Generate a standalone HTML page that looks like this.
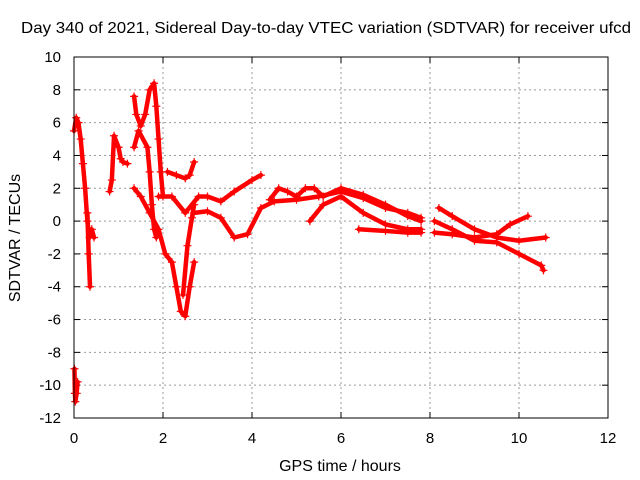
<!DOCTYPE html>
<html><head><meta charset="utf-8"><style>
body{margin:0;background:#fff}
svg{display:block;font-family:"Liberation Sans",sans-serif}
</style></head><body>
<svg id="chart" width="640" height="480">
<text x="326" y="33" text-anchor="middle" font-size="16" textLength="610" lengthAdjust="spacingAndGlyphs">Day 340 of 2021, Sidereal Day-to-day VTEC variation (SDTVAR) for receiver ufcd</text>
<text x="340" y="471" text-anchor="middle" font-size="16">GPS time / hours</text>
<text x="20" y="238" text-anchor="middle" font-size="16" transform="rotate(-90 20 238)">SDTVAR / TECUs</text>
<g id="grid"></g><g id="marks"></g>
<rect x="74" y="57" width="534" height="361" fill="none" stroke="#000"/>
</svg>
<script>
const xTicks=[0,2,4,6,8,10,12];
const yTicks=[10,8,6,4,2,0,-2,-4,-6,-8,-10,-12];
const trackA=[[0,5.5],[0.05,6.3],[0.1,6],[0.15,5],[0.2,3.5],[0.25,2],[0.3,0],[0.35,-1],[0.4,-0.5],[0.45,-1]];
const trackA2=[[0.3,0.5],[0.33,-2],[0.36,-4]];
const trackA3=[[0.01,-9],[0.02,-10.5],[0.03,-11],[0.06,-10.5],[0.08,-9.8]];
const trackB=[[0.8,1.8],[0.85,2.5],[0.9,5.2],[1.0,4.5],[1.05,3.8],[1.1,3.6],[1.2,3.5]];
const trackC=[[1.35,7.6],[1.4,6.5],[1.5,5.8],[1.6,6.5],[1.7,8],[1.8,8.4],[1.85,7],[1.9,5],[1.95,3],[2.0,1.5]];
const trackC2=[[1.35,4.5],[1.45,5.5],[1.65,4.5],[1.7,3],[1.75,1],[1.8,-0.5],[1.85,-1]];
const trackD=[[1.35,2],[1.5,1.5],[1.7,0.5],[1.9,-0.5],[2.05,-2],[2.2,-2.5],[2.3,-4],[2.4,-5.5],[2.5,-5.8],[2.6,-4],[2.7,-2.5]];
const trackD2=[[2.45,-4.5],[2.55,-1.5],[2.65,0.2],[2.7,1]];
const trackE=[[1.9,1.5],[2.2,1.5],[2.5,0.5],[2.8,1.5],[3.0,1.5],[3.3,1.2],[3.6,1.8],[4.0,2.5],[4.2,2.8]];
const trackF=[[2.1,3],[2.3,2.8],[2.5,2.6],[2.6,2.8],[2.7,3.6]];
const trackG=[[2.7,0.5],[3.0,0.6],[3.3,0.2],[3.6,-1],[3.9,-0.8],[4.2,0.8],[4.5,1.2],[5,1.3],[5.5,1.5],[6,1.8],[6.5,1.4],[7,0.8],[7.5,0.5],[7.8,0.2]];
const trackH=[[4.4,1.3],[4.6,2],[4.8,1.8],[5.0,1.5],[5.2,2],[5.4,2],[5.6,1.5],[6,2],[6.5,1.6],[7,1],[7.5,0.3],[7.8,0]];
const trackI=[[5.3,0],[5.6,1],[6,1.5],[6.5,0.5],[7,-0.2],[7.5,-0.5],[7.8,-0.5]];
const trackJ=[[6.4,-0.5],[7,-0.6],[7.5,-0.7],[7.8,-0.7]];
const trackK=[[8.2,0.8],[8.5,0.3],[9,-0.5],[9.5,-1],[10,-1.2],[10.6,-1]];
const trackL=[[8.1,-0.7],[8.5,-0.8],[9,-1],[9.5,-0.8],[9.8,-0.2],[10.2,0.3]];
const trackM=[[8.1,0],[8.5,-0.5],[9,-1.2],[9.5,-1.3],[10,-2],[10.5,-2.7],[10.55,-3]];
const tracks=[trackA,trackA2,trackA3,trackB,trackC,trackC2,trackD,trackD2,trackE,trackF,trackG,trackH,trackI,trackJ,trackK,trackL,trackM];
const X=t=>74+t*534/12;
const Y=v=>57+(10-v)*361/22;
const NS="http://www.w3.org/2000/svg";
const grid=document.getElementById('grid'),marks=document.getElementById('marks');
function mk(tag,attrs,parent){const e=document.createElementNS(NS,tag);for(const k in attrs)e.setAttribute(k,attrs[k]);parent.appendChild(e);return e;}
xTicks.forEach(t=>{
 const x=X(t);
 if(t>0&&t<12){const l=mk('line',{x1:x,x2:x,y1:57,y2:418,stroke:'#999','stroke-dasharray':'2,3'},grid);
 
 }
 mk('line',{x1:x,x2:x,y1:418,y2:412,stroke:'#000'},grid);
 mk('line',{x1:x,x2:x,y1:57,y2:63,stroke:'#000'},grid);
 const tx=mk('text',{x:x,y:443,'text-anchor':'middle','font-size':15},grid);tx.textContent=t;
 
 
});
yTicks.forEach(v=>{
 const y=Y(v);
 if(v<10&&v>-12){const l=mk('line',{x1:74,x2:608,y1:y,y2:y,stroke:'#999','stroke-dasharray':'2,3'},grid);
 
 }
 mk('line',{x1:74,x2:80,y1:y,y2:y,stroke:'#000'},grid);
 mk('line',{x1:602,x2:608,y1:y,y2:y,stroke:'#000'},grid);
 const tx=mk('text',{x:61,y:y+5,'text-anchor':'end','font-size':15},grid);tx.textContent=v;
 
 
});
tracks.forEach(tr=>{
 const p=mk('polyline',{points:tr.map(d=>X(d[0])+','+Y(d[1])).join(' '),fill:'none',stroke:'#f00','stroke-width':4.5,'stroke-linejoin':'round','stroke-linecap':'round'},marks);
 
 
 tr.forEach(d=>{
  const x=X(d[0]),y=Y(d[1]);
  const m=mk('path',{d:`M${x-4},${y}H${x+4}M${x},${y-4}V${y+4}`,stroke:'#f00','stroke-width':1.2},marks);
  
  
 });
});
</script>
</body></html>
